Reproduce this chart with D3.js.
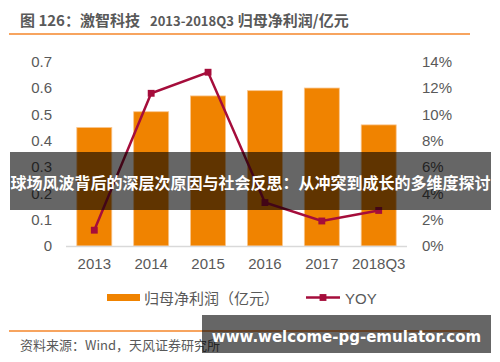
<!DOCTYPE html>
<html>
<head>
<meta charset="utf-8">
<script src="https://cdn.jsdelivr.net/npm/d3@7"></script>
<style>
  body { margin: 0; background: #fff; }
  svg { display: block; }
</style>
</head>
<body>
<div id="chart"></div>
<script>
// chart data
const years = ["2013", "2014", "2015", "2016", "2017", "2018Q3"];
const netProfit = [0.45, 0.51, 0.57, 0.59, 0.60, 0.46]; // 归母净利润（亿元）
const yoy = [0.012, 0.116, 0.132, 0.033, 0.019, 0.027];
const leftTicks = [0, 0.1, 0.2, 0.3, 0.4, 0.5, 0.6, 0.7];
const rightTicks = [0, 0.02, 0.04, 0.06, 0.08, 0.10, 0.12, 0.14];

const width = 500;
const height = 362;

const orange = "#f08300";
const lineRed = "#a50d3b";
const gray = "#595959";
const cjk = "'Noto Sans CJK SC', sans-serif";
const latin = "'Liberation Sans', Arial, sans-serif";

const svg = d3.select("#chart").append("svg")
    .attr("width", width)
    .attr("height", height);

// title
const title = svg.append("text")
    .attr("x", 20)
    .attr("y", 26)
    .attr("fill", gray)
    .style("font-family", cjk)
    .style("font-weight", "bold")
    .style("font-size", "15px")
    .attr("xml:space", "preserve");
title.append("tspan").text("图 126：激智科技");
title.append("tspan").attr("dx", 10).style("font-size", "13px").text("2013-2018Q3");
title.append("tspan").attr("dx", 4).text("归母净利润/亿元");

// orange rules top and bottom
svg.append("line")
    .attr("x1", 9).attr("x2", 470)
    .attr("y1", 34).attr("y2", 34)
    .attr("stroke", "#f5862a").attr("stroke-width", 1.5);
svg.append("line")
    .attr("x1", 9).attr("x2", 470)
    .attr("y1", 331).attr("y2", 331)
    .attr("stroke", "#f5862a").attr("stroke-width", 1.5);

// scales
const x = d3.scaleBand()
    .domain(years)
    .range([66, 407])
    .paddingInner(0.385)
    .paddingOuter(0.19);

const yLeft = d3.scaleLinear().domain([0, 0.7]).range([246, 61.7]);
const yRight = d3.scaleLinear().domain([0, 0.14]).range([246, 61.7]);

// left axis labels
const leftAxis = svg.append("g")
    .attr("transform", "translate(52,0)")
    .call(d3.axisLeft(yLeft).tickValues(leftTicks).tickSize(0).tickPadding(0)
        .tickFormat(d => d === 0 ? "0" : d3.format(".1f")(d)));
leftAxis.select(".domain").remove();
leftAxis.selectAll("text")
    .attr("fill", gray)
    .style("font-family", latin)
    .style("font-size", "15px");

// right axis labels
const rightAxis = svg.append("g")
    .attr("transform", "translate(422,0)")
    .call(d3.axisRight(yRight).tickValues(rightTicks).tickSize(0).tickPadding(0)
        .tickFormat(d3.format(".0%")));
rightAxis.select(".domain").remove();
rightAxis.selectAll("text")
    .attr("fill", gray)
    .style("font-family", latin)
    .style("font-size", "15px");

// bars
svg.append("g").selectAll("rect")
    .data(netProfit)
    .join("rect")
    .attr("x", (d, i) => x(years[i]))
    .attr("y", d => yLeft(d))
    .attr("width", x.bandwidth())
    .attr("height", d => yLeft(0) - yLeft(d))
    .attr("fill", orange)
    .attr("stroke", "#f9c58c")
    .attr("stroke-width", 0.8);

// baseline
svg.append("line")
    .attr("x1", 66).attr("x2", 407)
    .attr("y1", 246.5).attr("y2", 246.5)
    .attr("stroke", "#d9d9d9").attr("stroke-width", 1.5);

// x labels
const xAxis = svg.append("g")
    .attr("transform", "translate(0,246)")
    .call(d3.axisBottom(x).tickSize(0).tickPadding(12));
xAxis.select(".domain").remove();
xAxis.selectAll("text")
    .attr("fill", gray)
    .style("font-family", latin)
    .style("font-size", "15px");

// yoy line
const line = d3.line()
    .x((d, i) => x(years[i]) + x.bandwidth() / 2)
    .y(d => yRight(d));

svg.append("path")
    .datum(yoy)
    .attr("d", line)
    .attr("fill", "none")
    .attr("stroke", lineRed)
    .attr("stroke-width", 2.5);

const diamond = d3.symbol().type(d3.symbolDiamond2).size(60);
svg.append("g").selectAll("path")
    .data(yoy)
    .join("path")
    .attr("d", diamond)
    .attr("transform", (d, i) => `translate(${x(years[i]) + x.bandwidth() / 2},${yRight(d)}) rotate(45)`)
    .attr("fill", lineRed);

// legend
svg.append("rect")
    .attr("x", 107).attr("y", 294)
    .attr("width", 33).attr("height", 7)
    .attr("fill", orange);
svg.append("text")
    .attr("x", 144).attr("y", 303.5)
    .attr("fill", gray)
    .style("font-family", cjk)
    .style("font-size", "15px")
    .text("归母净利润（亿元）");
svg.append("line")
    .attr("x1", 306).attr("x2", 340)
    .attr("y1", 297.5).attr("y2", 297.5)
    .attr("stroke", lineRed).attr("stroke-width", 2.5);
svg.append("path")
    .attr("d", diamond)
    .attr("transform", "translate(323,297.5) rotate(45)")
    .attr("fill", lineRed);
svg.append("text")
    .attr("x", 345).attr("y", 303.5)
    .attr("fill", gray)
    .style("font-family", latin)
    .style("font-size", "15px")
    .text("YOY");

// source
svg.append("text")
    .attr("x", 20).attr("y", 350)
    .attr("fill", gray)
    .style("font-family", cjk)
    .style("font-size", "13px")
    .text("资料来源：Wind，天风证券研究所");

// overlay banners
svg.append("rect")
    .attr("x", 10).attr("y", 152)
    .attr("width", 481).attr("height", 58)
    .attr("fill", "rgba(0,0,0,0.6)");
svg.append("text")
    .attr("x", 250.5).attr("y", 189)
    .attr("text-anchor", "middle")
    .attr("fill", "#fff")
    .style("font-family", cjk)
    .style("font-weight", "bold")
    .style("font-size", "16px")
    .text("球场风波背后的深层次原因与社会反思：从冲突到成长的多维度探讨");

svg.append("rect")
    .attr("x", 202).attr("y", 315)
    .attr("width", 289).attr("height", 38)
    .attr("fill", "rgba(0,0,0,0.6)");
svg.append("text")
    .attr("x", 346.5).attr("y", 342)
    .attr("text-anchor", "middle")
    .attr("fill", "#fff")
    .style("font-family", "'DejaVu Sans', sans-serif")
    .style("font-weight", "bold")
    .style("font-size", "15px")
    .text("www.welcome-pg-emulator.com");
</script>
</body>
</html>
